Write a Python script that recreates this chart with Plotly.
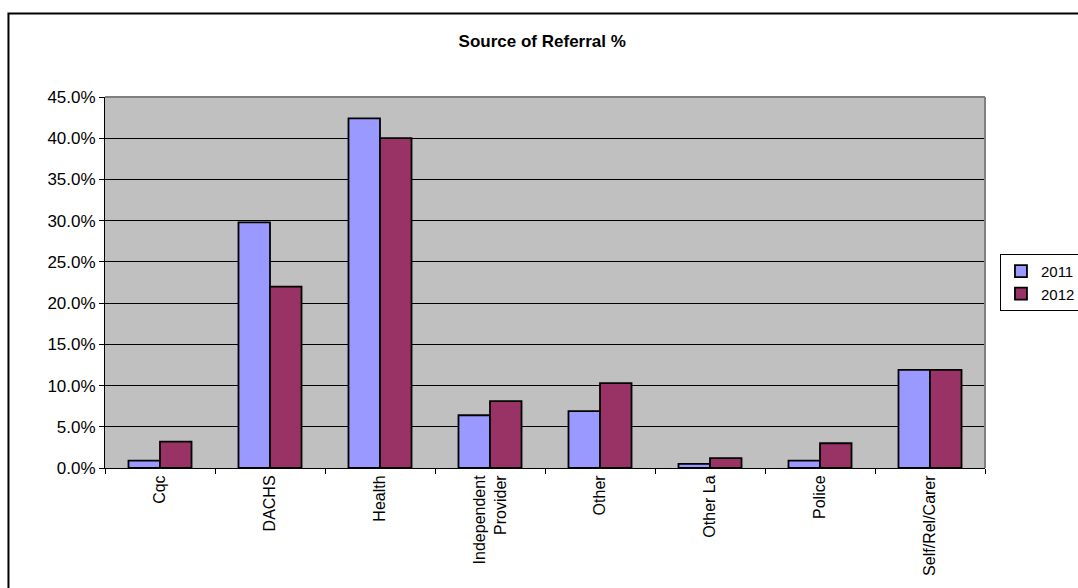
import plotly.graph_objects as go

categories = ["Cqc", "DACHS", "Health", "Independent<br>Provider", "Other",
              "Other La", "Police", "Self/Rel/Carer"]
values_2011 = [0.009, 0.298, 0.424, 0.064, 0.069, 0.005, 0.009, 0.119]
values_2012 = [0.032, 0.220, 0.400, 0.081, 0.103, 0.012, 0.030, 0.119]
series_names = ["2011", "2012"]
y_ticks = [0.0, 0.05, 0.10, 0.15, 0.20, 0.25, 0.30, 0.35, 0.40, 0.45]

FONT = "Liberation Sans, Arial, sans-serif"

fig = go.Figure()
fig.add_trace(go.Bar(x=categories, y=values_2011, name=series_names[0],
                     marker=dict(color="#9999FF", line=dict(color="#000000", width=1.8))))
fig.add_trace(go.Bar(x=categories, y=values_2012, name=series_names[1],
                     marker=dict(color="#993366", line=dict(color="#000000", width=1.8))))

fig.update_layout(
    width=1078, height=588,
    margin=dict(l=105, r=93, t=97, b=120, autoexpand=False),
    paper_bgcolor="#FFFFFF",
    plot_bgcolor="#C0C0C0",
    bargap=0.427, bargroupgap=0,
    font=dict(family=FONT, size=16, color="#000000"),
    title=dict(text="<b>Source of Referral %</b>", x=0.503, xanchor="center",
               y=0.93, yanchor="middle", font=dict(family=FONT, size=17)),
    legend=dict(x=1.017, y=0.577, xanchor="left", yanchor="top",
                bgcolor="#FFFFFF", bordercolor="#000000", borderwidth=1,
                font=dict(family=FONT, size=15), tracegroupgap=4,
                itemwidth=30),
    xaxis=dict(type="category", tickangle=-90, showgrid=False,
               showline=True, linecolor="#000000", linewidth=1,
               ticks="outside", tickson="boundaries", ticklen=5,
               tickcolor="#000000", tickfont=dict(family=FONT, size=16)),
    yaxis=dict(range=[0, 0.45], tickvals=y_ticks, tickformat=".1%",
               showgrid=True, gridcolor="#000000", gridwidth=1,
               showline=True, linecolor="#000000", linewidth=1,
               ticks="outside", ticklen=5, tickcolor="#000000",
               zeroline=False, tickfont=dict(family=FONT, size=17)),
    shapes=[
        # plot area top/right border
        dict(type="line", xref="paper", yref="paper", x0=0, x1=1, y0=1, y1=1,
             line=dict(color="#808080", width=2)),
        dict(type="line", xref="paper", yref="paper", x0=1, x1=1, y0=0, y1=1,
             line=dict(color="#808080", width=2)),
        # outer chart border
        dict(type="rect", xref="paper", yref="paper",
             x0=-0.1097, x1=1.12, y0=-0.33, y1=1.225,
             line=dict(color="#000000", width=2), fillcolor="rgba(0,0,0,0)"),
    ],
)

fig.write_html("out.html")
